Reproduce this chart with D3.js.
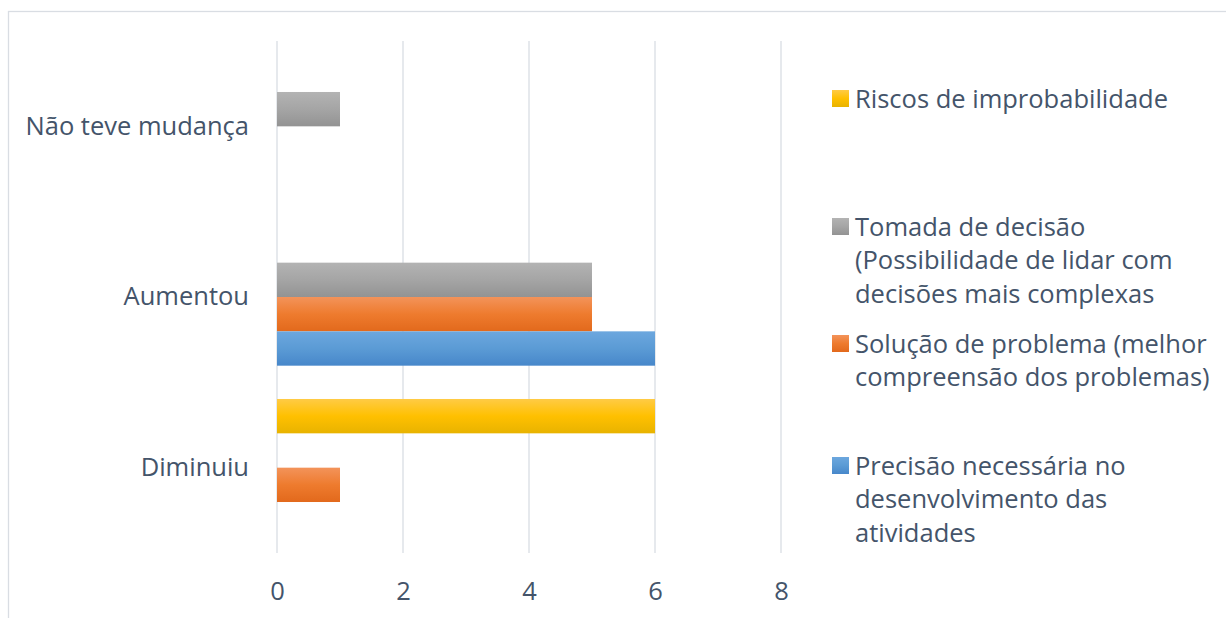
<!DOCTYPE html>
<html><head><meta charset="utf-8">
<script src="https://cdn.jsdelivr.net/npm/d3@7"></script>
<style>
html,body{margin:0;padding:0;background:#fff;}
svg{display:block;}
text{font-family:"Open Sans",sans-serif;fill:#44546a;}
</style></head>
<body><svg id="c" width="1226" height="618"></svg>
<script>
const categories = ["Não teve mudança", "Aumentou", "Diminuiu"];
const seriesNames = ["Riscos de improbabilidade", "Tomada de decisão (Possibilidade de lidar com decisões mais complexas", "Solução de problema (melhor compreensão dos problemas)", "Precisão necessária no desenvolvimento das atividades"];
const riscos = [0, 0, 6];
const tomada = [1, 5, 0];
const solucao = [0, 5, 1];
const precisao = [0, 6, 0];
const xTicks = [0, 2, 4, 6, 8];
const legendLines = [
  ["Riscos de improbabilidade"],
  ["Tomada de decisão", "(Possibilidade de lidar com", "decisões mais complexas"],
  ["Solução de problema (melhor", "compreensão dos problemas)"],
  ["Precisão necessária no", "desenvolvimento das", "atividades"]
];
const colors = [
  ["#ffcb45", "#ffc000", "#e8b300"],
  ["#b3b3b3", "#a5a5a5", "#939393"],
  ["#f3935a", "#ee7b2e", "#e2691c"],
  ["#6ca7de", "#5b9bd5", "#4787ca"]
];
const values = [riscos, tomada, solucao, precisao];
const FS = 25.5;

const svg = d3.select("#c");
const defs = svg.append("defs");
colors.forEach((c, i) => {
  const g = defs.append("linearGradient").attr("id", "g" + i).attr("x1", 0).attr("y1", 0).attr("x2", 0).attr("y2", 1);
  g.append("stop").attr("offset", "0%").attr("stop-color", c[0]);
  g.append("stop").attr("offset", "50%").attr("stop-color", c[1]);
  g.append("stop").attr("offset", "100%").attr("stop-color", c[2]);
});

// outer border
svg.append("rect").attr("x", 8.5).attr("y", 11.5).attr("width", 1240).attr("height", 640)
  .attr("fill", "none").attr("stroke", "#d9dde3").attr("stroke-width", 1.3);

const x = d3.scaleLinear().domain([0, 8]).range([277, 781]);
const y0 = d3.scaleBand().domain(categories).range([41, 553]);
const y1 = d3.scaleBand().domain(seriesNames).range([0, y0.bandwidth()]).paddingOuter(0.485);

// gridlines
svg.append("g").selectAll("line").data(xTicks).join("line")
  .attr("x1", d => x(d)).attr("x2", d => x(d)).attr("y1", 41).attr("y2", 553)
  .attr("stroke", "#d9dde3").attr("stroke-width", 1.3);

// bars
const rows = [];
categories.forEach((cat, ci) => {
  seriesNames.forEach((s, si) => rows.push({cat, s, si, v: values[si][ci]}));
});
svg.append("g").selectAll("rect").data(rows.filter(d => d.v > 0)).join("rect")
  .attr("x", x(0)).attr("y", d => y0(d.cat) + y1(d.s))
  .attr("width", d => x(d.v) - x(0)).attr("height", y1.bandwidth())
  .attr("fill", d => "url(#g" + d.si + ")");

// x axis labels
const xAxis = d3.axisBottom(x).tickValues(xTicks).tickSize(0).tickPadding(0);
const gx = svg.append("g").attr("transform", "translate(0,582)").call(xAxis);
gx.select(".domain").remove();
gx.selectAll("text").attr("font-size", FS).attr("font-family", "'Open Sans',sans-serif").attr("fill", "#44546a");

// y axis labels
const yAxis = d3.axisLeft(y0).tickSize(0).tickPadding(28);
const gy = svg.append("g").attr("transform", "translate(277,0)").call(yAxis);
gy.select(".domain").remove();
gy.selectAll("text").attr("font-size", FS).attr("font-family", "'Open Sans',sans-serif").attr("fill", "#44546a");

// legend
const legendTop = [99, 227, 344, 466];
const lg = svg.append("g");
legendLines.forEach((lines, i) => {
  lg.append("rect").attr("x", 832).attr("y", legendTop[i] - 9).attr("width", 17).attr("height", 17)
    .attr("fill", "url(#g" + i + ")");
  lines.forEach((ln, j) => {
    lg.append("text").attr("x", 855).attr("y", legendTop[i] + j * 33.5).attr("dy", "0.35em")
      .attr("font-size", FS).text(ln);
  });
});
</script></body></html>
